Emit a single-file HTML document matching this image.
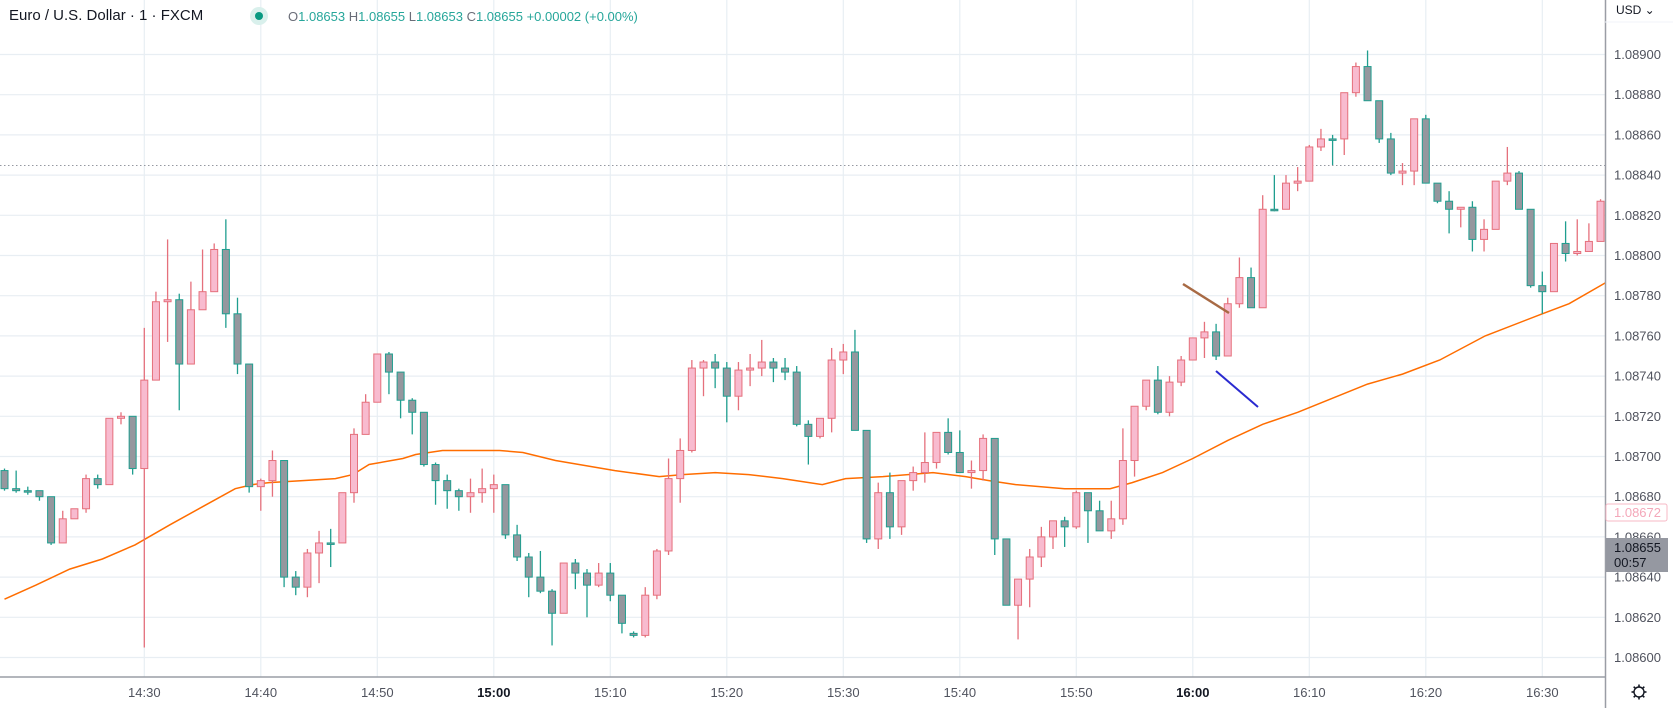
<!DOCTYPE html>
<html><head><meta charset="utf-8">
<style>
html,body{margin:0;padding:0;background:#fff;width:1673px;height:708px;overflow:hidden;font-family:"Liberation Sans",sans-serif;}
#wrap{position:relative;width:1673px;height:708px;}
svg{position:absolute;left:0;top:0;}
.hdr{position:absolute;top:7px;left:9px;font-size:15px;color:#131722;white-space:nowrap;}
.ohlc{position:absolute;top:9px;left:288px;font-size:13px;color:#26a69a;white-space:nowrap;}
.ohlc b{font-weight:normal;color:#6a6d78;}
</style></head><body>
<div id="wrap">
<svg id="chart" width="1673" height="708"></svg>
<div class="hdr">Euro / U.S. Dollar · 1 · FXCM</div>
<div class="ohlc"><b>O</b>1.08653 <b>H</b>1.08655 <b>L</b>1.08653 <b>C</b>1.08655 +0.00002 (+0.00%)</div>
</div>
<script>
// prices in units of 0.00001 above 1.00 (e.g. 8693 => 1.08693)
const openV=[8693,8684,8683,8683,8680,8657,8669,8674,8689,8686,8719,8720,8694,8738,8777,8778,8746,8773,8782,8803,8771,8746,8685,8688,8698,8640,8635,8652,8657,8657,8682,8711,8727,8751,8742,8728,8722,8696,8688,8683,8680,8682,8684,8686,8661,8650,8640,8633,8622,8647,8642,8636,8642,8631,8612,8611,8631,8653,8689,8703,8744,8747,8744,8730,8743,8744,8747,8744,8742,8716,8710,8719,8748,8752,8713,8659,8682,8665,8688,8692,8697,8712,8702,8692,8693,8709,8659,8626,8639,8650,8660,8668,8665,8682,8673,8663,8669,8698,8725,8738,8722,8737,8748,8759,8762,8750,8776,8789,8774,8823,8823,8836,8837,8854,8858,8858,8881,8894,8877,8858,8841,8842,8868,8836,8827,8823,8824,8808,8813,8837,8841,8823,8785,8782,8806,8801,8802,8807];
const highV=[8694,8693,8685,8683,8680,8673,8674,8691,8691,8719,8722,8720,8764,8782,8808,8781,8787,8803,8806,8818,8779,8746,8689,8703,8698,8643,8654,8663,8664,8682,8714,8731,8751,8752,8742,8729,8722,8697,8691,8684,8689,8694,8691,8686,8666,8652,8653,8634,8647,8649,8644,8647,8647,8631,8613,8635,8654,8699,8709,8748,8748,8751,8747,8747,8751,8758,8749,8749,8745,8718,8719,8754,8756,8763,8713,8687,8692,8688,8695,8712,8712,8719,8713,8698,8711,8709,8659,8639,8654,8665,8668,8670,8683,8682,8678,8678,8714,8725,8738,8745,8740,8750,8759,8767,8766,8779,8799,8794,8830,8840,8840,8844,8855,8863,8860,8881,8896,8902,8877,8861,8846,8868,8870,8836,8832,8824,8827,8818,8837,8854,8842,8823,8792,8806,8817,8818,8816,8828];
const lowV=[8683,8682,8681,8678,8656,8657,8669,8672,8684,8686,8716,8691,8605,8738,8757,8723,8746,8773,8782,8764,8741,8682,8673,8680,8635,8631,8630,8637,8645,8657,8677,8711,8727,8731,8719,8711,8695,8676,8674,8673,8672,8677,8672,8659,8648,8630,8632,8606,8622,8634,8620,8635,8628,8612,8610,8610,8629,8651,8677,8702,8730,8734,8717,8723,8735,8740,8737,8738,8715,8696,8709,8712,8741,8713,8657,8654,8659,8661,8683,8687,8694,8701,8692,8684,8688,8651,8626,8609,8625,8645,8654,8655,8664,8657,8663,8659,8666,8690,8723,8721,8720,8735,8748,8749,8748,8750,8774,8774,8774,8822,8823,8832,8837,8852,8845,8850,8879,8877,8856,8840,8835,8835,8836,8826,8811,8814,8802,8802,8813,8835,8823,8784,8771,8782,8797,8800,8802,8807];
const closeV=[8684,8683,8683,8680,8657,8669,8674,8689,8686,8719,8720,8694,8738,8777,8778,8746,8773,8782,8803,8771,8746,8685,8688,8698,8640,8635,8652,8657,8657,8682,8711,8727,8751,8742,8728,8722,8696,8688,8683,8680,8682,8684,8686,8661,8650,8640,8633,8622,8647,8642,8636,8642,8631,8617,8611,8631,8653,8689,8703,8744,8747,8744,8730,8743,8744,8747,8744,8742,8716,8710,8719,8748,8752,8713,8659,8682,8665,8688,8692,8697,8712,8702,8692,8693,8709,8659,8626,8639,8650,8660,8668,8665,8682,8673,8663,8669,8698,8725,8738,8722,8737,8748,8759,8762,8750,8776,8789,8774,8823,8823,8836,8837,8854,8858,8858,8881,8894,8877,8858,8841,8842,8868,8836,8827,8823,8824,8808,8813,8837,8841,8823,8785,8782,8806,8801,8802,8807,8827];
// moving average samples: candle index positions and values
const maIdx=[0,2.7,5.6,8.4,11.2,14.2,17,19.8,21.3,22.7,25.6,28.4,29.9,31.3,34.2,35.3,37.6,42.5,44.5,47.3,52.4,56.2,58.2,61,63.9,66.8,70.2,72.2,75.4,79.7,82.5,84.5,86.8,91,94.9,96.8,99.4,102,105,108,111,114,117,120,123.2,127.1,132,134.3,137.6];
const maVal=[8629,8636,8644,8649,8656,8666,8675,8684,8686,8687,8688,8689,8691,8696,8699,8701,8703,8703,8702,8698,8693,8690,8691,8692,8691,8689,8686,8689,8690,8692,8690,8688,8686,8684,8684,8687,8692,8699,8708,8716,8722,8729,8736,8741,8748,8760,8771,8776,8787];
const priceTicks=[8600,8620,8640,8660,8680,8700,8720,8740,8760,8780,8800,8820,8840,8860,8880,8900];
const timeLabels=["14:30","14:40","14:50","15:00","15:10","15:20","15:30","15:40","15:50","16:00","16:10","16:20","16:30"];
const timeLabelIdx=[12,22,32,42,52,62,72,82,92,102,112,122,132];

const NS="http://www.w3.org/2000/svg";
const svg=document.getElementById('chart');
const PLOT_R=1605, AXIS_Y=677;
const xOf=i=>144.3+(i-12)*11.65;
const yOf=v=>54.5+(8900-v)*2.01;
const fmt=v=>(1+v/100000).toFixed(5);
function mk(tag,attrs,parent){const e=document.createElementNS(NS,tag);for(const k in attrs)e.setAttribute(k,attrs[k]);(parent||svg).appendChild(e);return e;}

// grid
const grid=mk('g',{});


priceTicks.forEach(v=>{const l=mk('line',{x1:0,x2:PLOT_R,y1:yOf(v),y2:yOf(v),stroke:'#e8eef3','stroke-width':1.2},grid);

});
timeLabelIdx.forEach(i=>{const l=mk('line',{x1:xOf(i),x2:xOf(i),y1:0,y2:AXIS_Y,stroke:'#e8eef3','stroke-width':1.2},grid);

});

// last price dotted line
const dl=mk('line',{x1:0,x2:PLOT_R,y1:165.5,y2:165.5,stroke:'#9598a1','stroke-width':1,'stroke-dasharray':'1.5,2.5'});



// MA line
let d='';maIdx.forEach((i,k)=>{d+=(k?'L':'M')+xOf(i).toFixed(1)+','+yOf(maVal[k]).toFixed(1);});
const ma=mk('path',{d:d,fill:'none',stroke:'#ff6d00','stroke-width':1.5});



// candles
const cg=mk('g',{});


openV.forEach((o,i)=>{
  const c=closeV[i],up=c>o;
  const stroke=up?'#e5707c':'#1f9e8f',fill=up?'#f8bbcf':'#95979e';
  const x=xOf(i);
  const g=mk('g',{},cg);
  
  
  mk('line',{x1:x,x2:x,y1:yOf(highV[i]),y2:yOf(lowV[i]),stroke:stroke,'stroke-width':1.3},g);
  const top=yOf(Math.max(o,c)),bot=yOf(Math.min(o,c));
  mk('rect',{x:x-3.5,y:top,width:7,height:Math.max(bot-top,1.5),fill:fill,stroke:stroke,'stroke-width':1},g);
});

// drawn trend lines
const t1=mk('line',{x1:1183,y1:284,x2:1229,y2:313,stroke:'#a86a44','stroke-width':2.5});


const t2=mk('line',{x1:1216,y1:371,x2:1258,y2:407,stroke:'#2a2ad0','stroke-width':2});



// axes
mk('rect',{x:PLOT_R,y:0,width:1673-PLOT_R,height:708,fill:'#fff'});
mk('rect',{x:0,y:AXIS_Y,width:PLOT_R,height:708-AXIS_Y,fill:'#fff'});
const ax1=mk('line',{x1:PLOT_R+0.5,x2:PLOT_R+0.5,y1:0,y2:708,stroke:'#9a9da5','stroke-width':1.5});


const ax2=mk('line',{x1:0,x2:PLOT_R,y1:AXIS_Y,y2:AXIS_Y,stroke:'#9a9da5','stroke-width':1.5});


mk('line',{x1:PLOT_R,x2:1673,y1:22,y2:22,stroke:'#f0f3fa','stroke-width':1});

priceTicks.forEach(v=>{const t=mk('text',{x:1614,y:yOf(v)+4.5,'font-size':13,fill:'#50535e','font-family':'Liberation Sans, sans-serif'});t.textContent=fmt(v);

});
timeLabels.forEach((s,k)=>{const b=(s==='15:00'||s==='16:00');const t=mk('text',{x:xOf(timeLabelIdx[k]),y:697,'font-size':13,'text-anchor':'middle',fill:b?'#131722':'#50535e','font-weight':b?'bold':'normal','font-family':'Liberation Sans, sans-serif'});t.textContent=s;

});

const usd=mk('text',{x:1616,y:14,'font-size':12,fill:'#131722','font-family':'Liberation Sans, sans-serif'});usd.textContent='USD ⌄';



// ma price label
const mb=mk('rect',{x:1606,y:504,width:61,height:17,fill:'#fff',stroke:'#f7b9c6','stroke-width':1,rx:2});


const mt=mk('text',{x:1614,y:517,'font-size':13,fill:'#f4a7b9','font-family':'Liberation Sans, sans-serif'});mt.textContent='1.08672';
// last price label
const lb=mk('rect',{x:1606,y:538,width:62,height:34,fill:'#9598a1'});


const lt=mk('text',{x:1614,y:552,'font-size':13,fill:'#131722','font-family':'Liberation Sans, sans-serif'});lt.textContent='1.08655';
const lt2=mk('text',{x:1614,y:567,'font-size':13,fill:'#131722','font-family':'Liberation Sans, sans-serif'});lt2.textContent='00:57';

// header dot
const dot=mk('circle',{cx:259,cy:16,r:9,fill:'#d9f0ec'});


mk('circle',{cx:259,cy:16,r:4,fill:'#089981'});

// gear
const gear=mk('g',{transform:'translate(1639,692)'});


mk('circle',{cx:0,cy:0,r:5,fill:'none',stroke:'#131722','stroke-width':1.4},gear);
for(let a=0;a<8;a++){const r=a*Math.PI/4;mk('line',{x1:5*Math.cos(r),y1:5*Math.sin(r),x2:7.5*Math.cos(r),y2:7.5*Math.sin(r),stroke:'#131722','stroke-width':1.6},gear);}
</script>
</body></html>
